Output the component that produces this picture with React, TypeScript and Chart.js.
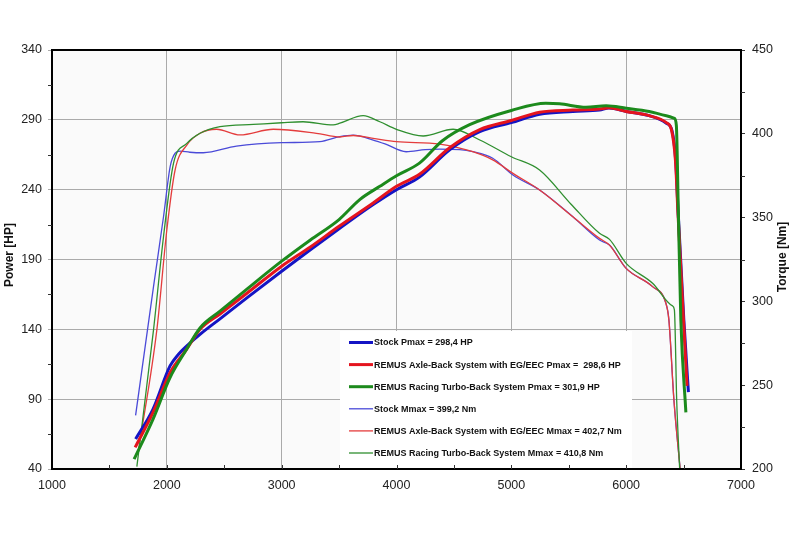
import React, { useEffect, useRef } from "react";
import { Chart, registerables } from "chart.js";

Chart.register(...registerables);

// ---- Data ----
const stockPowerRpm = [1728, 1880, 2028, 2100, 2172, 2289, 2463, 2700, 3000, 3250, 3500, 3797, 4000, 4200, 4463, 4725, 5000, 5246, 5536, 5768, 5850, 6000, 6200, 6350, 6400, 6432, 6452, 6502, 6542];
const stockPowerHp = [61.4, 82.9, 113.8, 122, 128, 136.4, 147.5, 162.7, 181.6, 197, 212, 229.3, 240, 249, 268.5, 281.5, 288, 294, 296, 297, 298.4, 296, 293, 287.6, 282, 260, 225, 147, 95];

const axlePowerRpm = [1724, 1880, 2028, 2172, 2289, 2463, 2700, 3000, 3250, 3500, 3797, 4000, 4200, 4463, 4725, 5000, 5246, 5536, 5768, 5850, 6000, 6200, 6350, 6394, 6430, 6450, 6499, 6530];
const axlePowerHp = [55.5, 80.5, 109, 125.7, 140, 151, 166, 185.2, 199, 213.8, 230.5, 242.4, 251, 270, 283, 289.5, 295.5, 297, 297.8, 298.6, 296, 293, 288, 283, 260, 225, 147, 99.5];

const turboPowerRpm = [1715, 1880, 2028, 2172, 2289, 2463, 2700, 3000, 3250, 3500, 3680, 3855, 4000, 4200, 4400, 4637, 5000, 5300, 5420, 5650, 5826, 6000, 6200, 6350, 6420, 6437, 6454, 6476, 6520];
const turboPowerHp = [47, 75.7, 105.5, 125.7, 141, 153, 169, 188.8, 204, 218.6, 232.9, 242.4, 250, 259, 275, 286.5, 296.7, 301.9, 301.5, 299, 300, 298.3, 296, 293, 291, 286, 225.7, 147, 80.5];

const stockTorqueRpm = [1728, 1884, 1971, 2029, 2072, 2115, 2200, 2317, 2606, 3000, 3333, 3507, 3623, 3797, 3900, 4084, 4250, 4376, 4550, 4664, 4838, 5014, 5246, 5536, 5768, 5855, 6000, 6230, 6346, 6372, 6416, 6470];
const stockTorqueNm = [232, 308.8, 350.5, 380.4, 388.4, 389.7, 389, 388.7, 392.7, 394.7, 395.3, 398.3, 399.2, 396.3, 394, 389.3, 390.5, 390.8, 390.5, 389.3, 385.4, 375.4, 366.5, 350.5, 336.6, 333.6, 319.7, 308.8, 298.9, 289, 241, 200];

const axleTorqueRpm = [1753, 1913, 2000, 2072, 2174, 2289, 2433, 2637, 2927, 3302, 3507, 3623, 3797, 4000, 4376, 4664, 4838, 5014, 5246, 5536, 5768, 5855, 6000, 6230, 6346, 6372, 6416, 6470];
const axleTorqueNm = [211.3, 283, 342.6, 378.4, 393.3, 400.3, 402.7, 399.3, 402.7, 400.3, 398.1, 399, 397.3, 395.3, 393.9, 389.3, 384.4, 376.4, 366.5, 350.5, 337.6, 333.6, 319.7, 308.8, 298.9, 289, 241, 200];

const turboTorqueRpm = [1739, 1884, 1971, 2058, 2174, 2289, 2463, 2753, 3000, 3186, 3449, 3507, 3710, 3855, 4000, 4232, 4493, 4725, 5000, 5246, 5520, 5768, 5855, 6000, 6230, 6404, 6420, 6440, 6466];
const turboTorqueNm = [201.4, 283, 338.6, 382.4, 394.3, 400.3, 404.3, 405.6, 406.6, 407.2, 405.3, 406.3, 410.8, 407.2, 402.7, 398.7, 402.7, 396.3, 386.3, 378.4, 358, 340.6, 337, 322.7, 310.8, 297.3, 295, 241, 200];

const legendLabels = [
  "Stock Pmax = 298,4 HP",
  "REMUS Axle-Back System with EG/EEC Pmax =  298,6 HP",
  "REMUS Racing Turbo-Back System Pmax = 301,9 HP",
  "Stock Mmax = 399,2 Nm",
  "REMUS Axle-Back System with EG/EEC Mmax = 402,7 Nm",
  "REMUS Racing Turbo-Back System Mmax = 410,8 Nm",
];

const xMin = 1000, xMax = 7000, xStep = 1000;
const powerMin = 40, powerMax = 340, powerStep = 50;
const torqueMin = 200, torqueMax = 450, torqueStep = 50;
const xTitleLeft = "Power [HP]";
const yTitleRight = "Torque [Nm]";

const FONT = '"Liberation Sans", Arial, Helvetica, sans-serif';

const COLORS = {
  stockThick: "#1414c4",
  axleThick: "#e4141e",
  turboThick: "#1c8a1c",
  stockThin: "#4a4ad8",
  axleThin: "#e43c3c",
  turboThin: "#2f8f2f",
};

const pts = (xs: number[], ys: number[]) => xs.map((x, i) => ({ x, y: ys[i] }));

export default function App() {
  const ref = useRef<HTMLCanvasElement | null>(null);

  useEffect(() => {
    if (!ref.current) return;

    const framePlugin = {
      id: "frameAndLegend",
      beforeDraw(chart: any) {
        const { ctx, chartArea: a } = chart;
        ctx.save();
        ctx.fillStyle = "#fafafa";
        ctx.fillRect(a.left, a.top, a.right - a.left, a.bottom - a.top);
        ctx.restore();
      },
      afterDatasetsDraw(chart: any) {
        const { ctx } = chart;
        const ds = chart.data.datasets;
        ctx.save();
        const bx = 340, by = 331, bw = 292, bh = 137;
        ctx.fillStyle = "#ffffff";
        ctx.fillRect(bx, by, bw, bh);
        ctx.font = `bold 9px ${FONT}`;
        ctx.textBaseline = "middle";
        ctx.textAlign = "left";
        legendLabels.forEach((lab, i) => {
          const y = 342.5 + i * 22.1;
          const d = ds[i];
          ctx.strokeStyle = d.borderColor;
          ctx.lineWidth = d.borderWidth;
          ctx.beginPath();
          ctx.moveTo(349, y);
          ctx.lineTo(373, y);
          ctx.stroke();
          ctx.fillStyle = "#111";
          ctx.fillText(lab, 374, y + 0.5);
        });
        ctx.restore();
      },
      afterDraw(chart: any) {
        const { ctx, chartArea: a, scales } = chart;
        ctx.save();
        // frame
        ctx.strokeStyle = "#000";
        ctx.lineWidth = 2;
        ctx.strokeRect(a.left, a.top, a.right - a.left, a.bottom - a.top);
        // minor ticks
        ctx.lineWidth = 1;
        ctx.strokeStyle = "#333";
        ctx.beginPath();
        for (let v = powerMin + powerStep / 2; v < powerMax; v += powerStep) {
          const y = Math.round(scales.y.getPixelForValue(v)) + 0.5;
          ctx.moveTo(a.left - 4, y);
          ctx.lineTo(a.left, y);
        }
        for (let v = torqueMin + torqueStep / 2; v < torqueMax; v += torqueStep) {
          const y = Math.round(scales.y1.getPixelForValue(v)) + 0.5;
          ctx.moveTo(a.right, y);
          ctx.lineTo(a.right + 4, y);
        }
        for (let v = xMin + xStep / 2; v < xMax; v += xStep / 2) {
          const x = Math.round(scales.x.getPixelForValue(v)) + 0.5;
          ctx.moveTo(x, a.bottom);
          ctx.lineTo(x, a.bottom - 4);
        }
        ctx.stroke();
        // axis titles
        ctx.fillStyle = "#111";
        ctx.font = `bold 12px ${FONT}`;
        ctx.textAlign = "center";
        ctx.textBaseline = "middle";
        ctx.save();
        ctx.translate(9.5, 255);
        ctx.rotate(-Math.PI / 2);
        ctx.fillText(xTitleLeft, 0, 0);
        ctx.restore();
        ctx.save();
        ctx.translate(782.5, 257);
        ctx.rotate(-Math.PI / 2);
        ctx.fillText(yTitleRight, 0, 0);
        ctx.restore();
        ctx.restore();
      },
    };

    const common = {
      pointRadius: 0,
      cubicInterpolationMode: "monotone" as const,
      fill: false,
    };

    const chart = new Chart(ref.current, {
      type: "line",
      data: {
        datasets: [
          { ...common, label: legendLabels[0], data: pts(stockPowerRpm, stockPowerHp), borderColor: COLORS.stockThick, borderWidth: 3, yAxisID: "y", order: 2 },
          { ...common, label: legendLabels[1], data: pts(axlePowerRpm, axlePowerHp), borderColor: COLORS.axleThick, borderWidth: 3, yAxisID: "y", order: 1 },
          { ...common, label: legendLabels[2], data: pts(turboPowerRpm, turboPowerHp), borderColor: COLORS.turboThick, borderWidth: 3, yAxisID: "y", order: 0 },
          { ...common, label: legendLabels[3], data: pts(stockTorqueRpm, stockTorqueNm), borderColor: COLORS.stockThin, borderWidth: 1.3, yAxisID: "y1", order: 5 },
          { ...common, label: legendLabels[4], data: pts(axleTorqueRpm, axleTorqueNm), borderColor: COLORS.axleThin, borderWidth: 1.3, yAxisID: "y1", order: 4 },
          { ...common, label: legendLabels[5], data: pts(turboTorqueRpm, turboTorqueNm), borderColor: COLORS.turboThin, borderWidth: 1.3, yAxisID: "y1", order: 3 },
        ],
      },
      options: {
        responsive: true,
        maintainAspectRatio: false,
        animation: false,
        layout: { padding: { top: 50, left: 0, right: 0, bottom: 0 } },
        plugins: { legend: { display: false }, tooltip: { enabled: false } },
        elements: { point: { radius: 0 } },
        scales: {
          x: {
            type: "linear",
            min: xMin,
            max: xMax,
            ticks: {
              stepSize: xStep,
              font: { family: FONT, size: 12.5 },
              color: "#222",
              padding: 9,
              maxRotation: 0,
              callback: (v: any) => String(v),
            },
            grid: { color: "#aaaaaa", lineWidth: 1, drawTicks: false },
            border: { display: false },
            afterFit: (s: any) => { s.height = 64; },
          },
          y: {
            type: "linear",
            position: "left",
            min: powerMin,
            max: powerMax,
            ticks: {
              stepSize: powerStep,
              font: { family: FONT, size: 12.5 },
              color: "#222",
              padding: 6,
              callback: (v: any) => String(v),
            },
            grid: { color: "#aaaaaa", lineWidth: 1, tickLength: 4 },
            border: { display: false },
            afterFit: (s: any) => { s.width = 52; },
          },
          y1: {
            type: "linear",
            position: "right",
            min: torqueMin,
            max: torqueMax,
            ticks: {
              stepSize: torqueStep,
              font: { family: FONT, size: 12.5 },
              color: "#222",
              padding: 7,
              callback: (v: any) => String(v),
            },
            grid: { drawOnChartArea: false, color: "#333", tickLength: 4 },
            border: { display: false },
            afterFit: (s: any) => { s.width = 59; },
          },
        },
      } as any,
      plugins: [framePlugin],
    });

    return () => chart.destroy();
  }, []);

  return (
    <div style={{ position: "fixed", left: 0, top: 0, width: 800, height: 533, background: "#fff" }}>
      <canvas ref={ref} />
    </div>
  );
}
